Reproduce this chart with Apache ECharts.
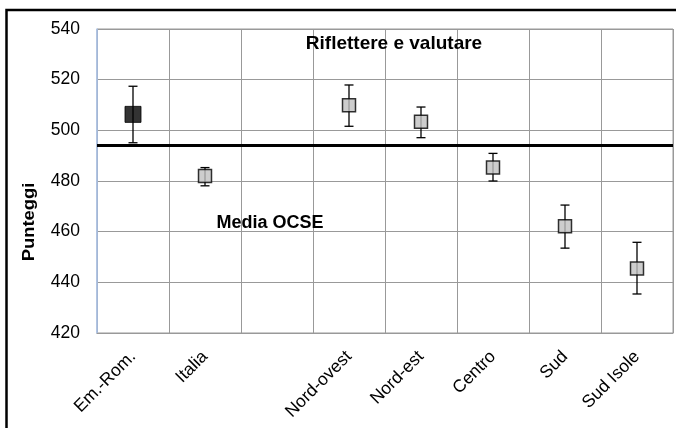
<!DOCTYPE html>
<html>
<head>
<meta charset="utf-8">
<script src="https://cdn.jsdelivr.net/npm/echarts@6/dist/echarts.min.js"></script>
<style>html,body{margin:0;padding:0;background:#fff;}#c{width:676px;height:428px;}</style>
</head>
<body>
<div id="c"></div>
<script>
const categories = ['Em.-Rom.', 'Italia', '', 'Nord-ovest', 'Nord-est', 'Centro', 'Sud', 'Sud Isole'];
const means = [506.3, 482.0, null, 509.9, 503.4, 485.3, 462.1, 445.5];
const lows  = [495.1, 478.1, null, 501.6, 497.1, 480.0, 453.5, 435.4];
const highs = [517.4, 485.3, null, 517.9, 509.2, 490.9, 470.5, 455.8];
const oecdMean = 494;
const yTicks = [420, 440, 460, 480, 500, 520, 540];

const FONT = 'Liberation Sans, Arial, sans-serif';
const chart = echarts.init(document.getElementById('c'), null, {renderer: 'canvas'});

const scatterData = means.map((v, i) => v == null ? null : {
  value: [i, v],
  symbolSize: i === 0 ? 16 : 13,
  itemStyle: i === 0 ? {color: '#000', borderColor: '#000', borderWidth: 1} : {color: '#c0c0c0', borderColor: '#000', borderWidth: 1.5}
}).filter(d => d);

const errData = means.map((v, i) => v == null ? null : [i, lows[i], highs[i]]).filter(d => d);

chart.setOption({
  animation: false,
  backgroundColor: '#fff',
  grid: {left: 97, top: 29, right: 3, bottom: 95, show: true, borderColor: '#999', borderWidth: 1},
  xAxis: {
    type: 'category',
    data: categories,
    boundaryGap: true,
    axisTick: {show: false},
    axisLine: {show: true, lineStyle: {color: '#999', width: 1}},
    splitLine: {show: true, interval: 0, lineStyle: {color: '#999', width: 1}},
    axisLabel: {rotate: 45, interval: 0, fontSize: 17.5, color: '#000', fontFamily: FONT, margin: 21}
  },
  yAxis: {
    type: 'value',
    min: yTicks[0], max: yTicks[yTicks.length - 1], interval: 20,
    axisLine: {show: true, lineStyle: {color: '#a9c2ea', width: 1.5}},
    axisTick: {show: false},
    splitLine: {show: true, lineStyle: {color: '#999', width: 1}},
    axisLabel: {fontSize: 17.5, color: '#000', fontFamily: FONT, margin: 17}
  },
  graphic: [
    {type: 'rect', shape: {x: 6.5, y: 10, width: 700, height: 440}, style: {fill: 'none', stroke: '#000', lineWidth: 2.5}, z: 100},
    {type: 'text', x: 30, y: 222, rotation: Math.PI / 2, scaleX: 1.15, style: {text: 'Punteggi', font: 'bold 16px ' + FONT, fill: '#000', align: 'center', verticalAlign: 'middle'}},
    {type: 'text', x: 394, y: 44, style: {text: 'Riflettere e valutare', font: 'bold 19px ' + FONT, fill: '#000', align: 'center', verticalAlign: 'middle'}, z: 50},
    {type: 'text', x: 270, y: 223, style: {text: 'Media OCSE', font: 'bold 18px ' + FONT, fill: '#000', align: 'center', verticalAlign: 'middle'}, z: 50}
  ],
  series: [
    {
      type: 'custom',
      data: errData,
      z: 2,
      renderItem: function (params, api) {
        const x = api.value(0);
        const lo = api.coord([x, api.value(1)]);
        const hi = api.coord([x, api.value(2)]);
        const hw = 4.5;
        const st = {stroke: '#000', lineWidth: 1.3};
        return {type: 'group', children: [
          {type: 'line', shape: {x1: lo[0], y1: lo[1], x2: hi[0], y2: hi[1]}, style: st},
          {type: 'line', shape: {x1: lo[0] - hw, y1: lo[1], x2: lo[0] + hw, y2: lo[1]}, style: st},
          {type: 'line', shape: {x1: hi[0] - hw, y1: hi[1], x2: hi[0] + hw, y2: hi[1]}, style: st}
        ]};
      }
    },
    {
      type: 'scatter',
      symbol: 'rect',
      data: scatterData,
      z: 5,
      markLine: {
        silent: true,
        symbol: 'none',
        label: {show: false},
        lineStyle: {color: '#000', width: 3, type: 'solid'},
        data: [{yAxis: oecdMean}]
      }
    }
  ]
});
</script>
</body>
</html>
